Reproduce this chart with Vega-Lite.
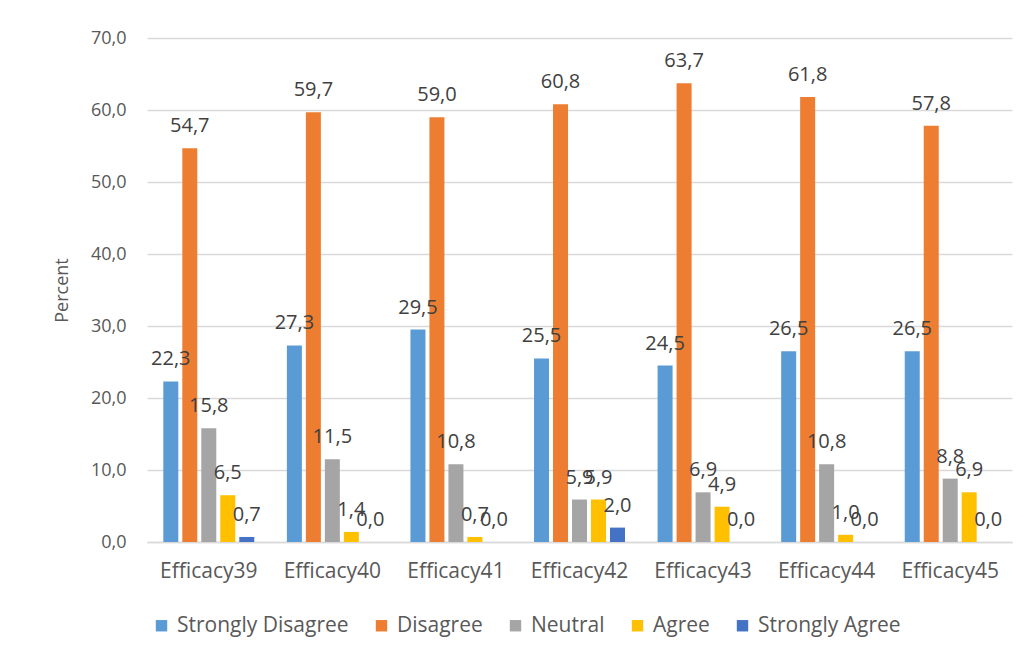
{
  "$schema": "https://vega.github.io/schema/vega-lite/v6.json",
  "width": 865,
  "height": 504,
  "autosize": {"type": "none"},
  "padding": {"left": 147, "top": 38, "right": 21, "bottom": 117},
  "background": "white",
  "config": {
    "locale": {"number": {"decimal": ",", "thousands": ".", "grouping": [3], "currency": ["", ""]}},
    "view": {"stroke": null},
    "font": "Open Sans"
  },
  "data": {
    "values": [
      {"item": "Efficacy39", "response": "Strongly Disagree", "value": 22.3},
      {"item": "Efficacy39", "response": "Disagree", "value": 54.7},
      {"item": "Efficacy39", "response": "Neutral", "value": 15.8},
      {"item": "Efficacy39", "response": "Agree", "value": 6.5},
      {"item": "Efficacy39", "response": "Strongly Agree", "value": 0.7},
      {"item": "Efficacy40", "response": "Strongly Disagree", "value": 27.3},
      {"item": "Efficacy40", "response": "Disagree", "value": 59.7},
      {"item": "Efficacy40", "response": "Neutral", "value": 11.5},
      {"item": "Efficacy40", "response": "Agree", "value": 1.4},
      {"item": "Efficacy40", "response": "Strongly Agree", "value": 0.0},
      {"item": "Efficacy41", "response": "Strongly Disagree", "value": 29.5},
      {"item": "Efficacy41", "response": "Disagree", "value": 59.0},
      {"item": "Efficacy41", "response": "Neutral", "value": 10.8},
      {"item": "Efficacy41", "response": "Agree", "value": 0.7},
      {"item": "Efficacy41", "response": "Strongly Agree", "value": 0.0},
      {"item": "Efficacy42", "response": "Strongly Disagree", "value": 25.5},
      {"item": "Efficacy42", "response": "Disagree", "value": 60.8},
      {"item": "Efficacy42", "response": "Neutral", "value": 5.9},
      {"item": "Efficacy42", "response": "Agree", "value": 5.9},
      {"item": "Efficacy42", "response": "Strongly Agree", "value": 2.0},
      {"item": "Efficacy43", "response": "Strongly Disagree", "value": 24.5},
      {"item": "Efficacy43", "response": "Disagree", "value": 63.7},
      {"item": "Efficacy43", "response": "Neutral", "value": 6.9},
      {"item": "Efficacy43", "response": "Agree", "value": 4.9},
      {"item": "Efficacy43", "response": "Strongly Agree", "value": 0.0},
      {"item": "Efficacy44", "response": "Strongly Disagree", "value": 26.5},
      {"item": "Efficacy44", "response": "Disagree", "value": 61.8},
      {"item": "Efficacy44", "response": "Neutral", "value": 10.8},
      {"item": "Efficacy44", "response": "Agree", "value": 1.0},
      {"item": "Efficacy44", "response": "Strongly Agree", "value": 0.0},
      {"item": "Efficacy45", "response": "Strongly Disagree", "value": 26.5},
      {"item": "Efficacy45", "response": "Disagree", "value": 57.8},
      {"item": "Efficacy45", "response": "Neutral", "value": 8.8},
      {"item": "Efficacy45", "response": "Agree", "value": 6.9},
      {"item": "Efficacy45", "response": "Strongly Agree", "value": 0.0}
    ]
  },
  "encoding": {
    "x": {
      "field": "item", "type": "nominal", "sort": null,
      "scale": {"paddingInner": 0.264, "paddingOuter": 0.132},
      "axis": {
        "title": null, "labelAngle": 0, "labelFontSize": 21, "labelColor": "#595959",
        "labelPadding": 18, "ticks": false, "domainColor": "#D9D9D9", "domainWidth": 1.5
      }
    },
    "xOffset": {
      "field": "response", "type": "nominal",
      "sort": ["Strongly Disagree", "Disagree", "Neutral", "Agree", "Strongly Agree"],
      "scale": {"paddingInner": 0.21, "paddingOuter": 0}
    },
    "y": {
      "field": "value", "type": "quantitative",
      "scale": {"domain": [0, 70], "nice": false},
      "axis": {
        "title": "Percent", "titleFontSize": 18, "titleFontWeight": "normal", "titleColor": "#595959",
        "titlePadding": 19,
        "values": [0, 10, 20, 30, 40, 50, 60, 70], "format": ".1f",
        "labelFontSize": 18, "labelColor": "#595959", "labelPadding": 21,
        "ticks": false, "domain": false, "gridColor": "#D9D9D9", "gridWidth": 1.5
      }
    }
  },
  "layer": [
    {
      "mark": {"type": "bar"},
      "encoding": {
        "color": {
          "field": "response", "type": "nominal",
          "scale": {
            "domain": ["Strongly Disagree", "Disagree", "Neutral", "Agree", "Strongly Agree"],
            "range": ["#5B9BD5", "#ED7D31", "#A5A5A5", "#FFC000", "#4472C4"]
          },
          "legend": {
            "title": null, "orient": "none", "direction": "horizontal",
            "legendX": 4, "legendY": 577,
            "symbolType": "square", "symbolSize": 130, "symbolStrokeWidth": 0,
            "labelFontSize": 21, "labelColor": "#595959", "labelOffset": 5,
            "columnPadding": 22, "labelLimit": 300
          }
        }
      }
    },
    {
      "mark": {"type": "text", "baseline": "alphabetic", "dy": -16, "fontSize": 20, "color": "#404040"},
      "encoding": {
        "text": {"field": "value", "type": "quantitative", "format": ".1f"}
      }
    }
  ]
}
